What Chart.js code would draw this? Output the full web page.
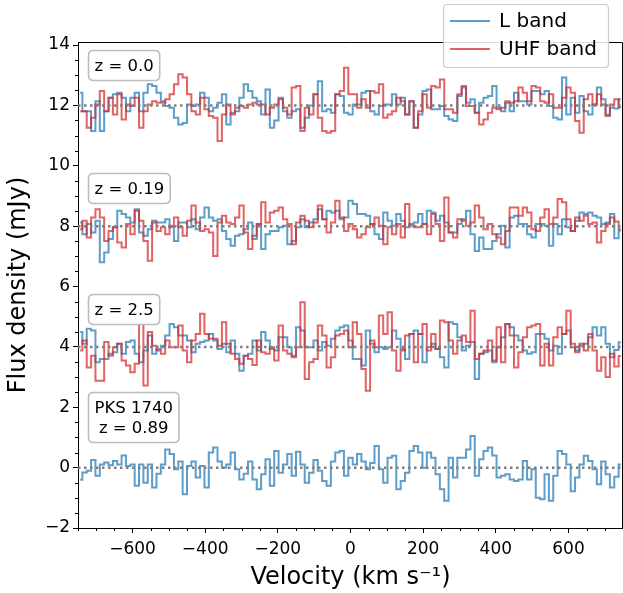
<!DOCTYPE html>
<html><head><meta charset="utf-8">
<script src="https://cdn.jsdelivr.net/npm/chart.js@4.4.1/dist/chart.umd.min.js"></script>
<style>html,body{margin:0;padding:0;background:#fff;}#wrap{width:623px;height:593px;}</style>
</head><body><div id="wrap"><canvas id="c" width="623" height="593"></canvas></div>
<script>
// Channel centre velocities (km/s)
const velocity = [
-744,-732,-720,-708,-696,-684,-672,-660,-648,-636,
-624,-612,-600,-588,-576,-564,-552,-540,-528,-516,
-504,-492,-480,-468,-456,-444,-432,-420,-408,-396,
-384,-372,-360,-348,-336,-324,-312,-300,-288,-276,
-264,-252,-240,-228,-216,-204,-192,-180,-168,-156,
-144,-132,-120,-108,-96,-84,-72,-60,-48,-36,
-24,-12,0,12,24,36,48,60,72,84,
96,108,120,132,144,156,168,180,192,204,
216,228,240,252,264,276,288,300,312,324,
336,348,360,372,384,396,408,420,432,444,
456,468,480,492,504,516,528,540,552,564,
576,588,600,612,624,636,648,660,672,684,
696,708,720,732,744];

// z = 0.0 (offset 12 mJy)
const lBandZ000 = [
12.42,11.81,11.81,11.15,12.14,11.15,11.81,12.25,12.37,12.42,12.25,11.81,12.25,12.42,11.81,12.42,12.7,12.64,12.42,12.14,11.98,11.92,11.59,11.37,11.42,12.03,11.98,12.03,12.42,12.25,11.81,11.92,12.09,12.37,11.37,11.76,11.81,12.25,12.7,12.48,12.25,12.14,
11.7,12.53,11.26,11.5,12.25,11.81,11.59,11.81,11.87,11.26,11.59,12.0,12.37,12.8,11.81,11.87,11.76,12.37,12.31,11.76,11.7,12.03,12.03,12.42,12.48,11.81,11.7,11.98,12.03,12.03,12.37,12.03,12.25,11.7,12.14,11.26,11.7,12.48,12.53,
11.87,11.87,11.98,11.65,11.53,11.48,12.31,12.59,12.09,12.2,11.76,12.09,12.25,12.31,12.64,11.92,11.81,12.09,11.81,12.42,12.14,12.14,12.03,12.48,12.48,12.37,12.48,11.98,11.59,11.53,12.92,11.7,12.25,11.76,12.31,11.81,11.7,12.03,12.59,12.2,11.7,11.92,
11.9,12.2];
const uhfBandZ000 = [
11.81,11.81,11.26,11.59,12.03,12.48,11.81,12.25,11.7,12.37,11.53,12.03,11.98,12.25,11.26,11.81,12.03,12.14,12.09,12.09,12.2,12.37,12.7,13.03,12.92,12.37,11.81,11.7,12.25,11.87,11.65,11.59,10.82,11.7,12.03,11.7,11.92,11.98,11.92,12.03,12.09,12.03,
12.03,11.7,11.92,12.03,12.2,11.92,11.7,12.59,12.64,11.15,11.92,11.7,12.37,11.59,11.15,11.09,11.15,12.37,12.48,13.25,12.37,12.37,11.92,12.2,11.92,12.48,12.42,12.7,11.59,11.7,11.81,12.25,12.14,11.7,12.14,11.26,11.81,12.37,11.92,
12.64,12.59,12.86,11.87,11.87,11.76,12.37,12.64,11.98,11.98,11.76,11.37,11.53,11.76,11.92,11.87,11.92,12.14,12.09,12.14,12.59,12.42,12.14,12.64,12.59,12.14,12.09,12.37,11.92,11.92,12.25,12.59,12.42,11.48,11.09,12.2,12.37,12.03,12.37,12.03,11.65,12.03,
12.2,11.95];

// z = 0.19 (offset 8 mJy)
const lBandZ019 = [
8.12,7.73,8.07,7.79,8.18,6.8,7.13,7.57,7.96,8.51,8.4,8.29,8.12,8.56,7.79,7.68,7.9,8.18,8.12,8.12,8.23,7.96,7.51,8.12,8.12,7.96,8.23,7.9,8.29,8.62,8.29,8.18,8.23,7.84,7.57,7.35,7.68,7.73,7.9,8.12,7.57,8.07,
7.24,7.73,7.84,7.84,7.96,8.01,7.4,7.51,7.96,8.23,7.96,8.12,8.23,8.56,8.23,8.51,8.45,8.51,8.23,8.29,8.84,8.73,8.4,8.4,8.34,8.07,7.73,7.57,8.45,8.18,8.01,8.4,8.18,7.96,8.07,8.12,8.4,8.07,8.51,
8.45,8.18,8.34,8.12,7.79,7.79,8.07,8.23,8.51,7.73,7.18,7.62,7.24,7.24,7.51,7.73,8.01,7.29,8.29,8.34,8.07,8.07,7.73,7.62,8.07,8.07,8.01,7.35,8.07,7.73,8.23,7.96,7.84,8.18,8.45,8.4,8.45,8.34,8.29,8.07,8.12,8.4,
7.6,7.85];
const uhfBandZ019 = [
7.9,8.18,7.62,8.29,8.56,8.29,7.51,7.84,7.96,7.46,7.29,8.07,7.73,8.51,8.18,7.51,6.85,8.12,7.84,7.96,7.73,8.01,8.29,7.96,7.68,8.18,8.68,8.12,7.84,7.9,7.79,7.01,8.12,8.34,8.12,8.07,8.29,8.68,7.79,7.24,7.68,8.07,
8.79,8.12,8.45,8.51,8.62,8.23,8.07,7.4,8.12,8.34,8.18,7.96,8.12,8.68,8.23,7.79,8.12,8.84,8.29,7.84,8.07,7.9,7.62,7.73,7.96,8.07,8.29,8.01,7.4,7.96,7.73,8.07,7.62,8.73,8.01,7.96,7.96,8.07,7.73,
8.4,8.07,7.51,8.95,7.79,7.62,8.23,8.18,8.01,8.12,8.68,8.29,7.9,8.07,7.73,7.62,7.4,7.84,8.62,8.62,8.34,8.62,8.45,7.9,7.84,8.29,8.56,8.07,8.29,8.9,8.79,8.23,7.84,8.29,8.18,8.34,8.07,8.12,7.46,7.84,8.07,8.29,
8.15,7.9];

// z = 2.5 (offset 4 mJy)
const lBandZ250 = [
4.49,4.1,4.6,4.54,3.49,3.6,3.6,3.77,3.82,4.1,3.77,4.16,4.21,3.77,3.49,3.88,4.38,3.77,3.93,4.04,4.38,4.76,4.65,4.38,4.38,4.21,3.82,4.1,4.16,4.21,4.43,4.21,3.93,4.1,3.82,4.21,3.77,3.21,3.71,3.77,4.21,3.88,
4.49,4.21,3.93,3.88,4.32,4.32,3.99,3.71,4.65,4.54,3.99,3.99,4.21,3.88,4.16,4.04,4.27,4.54,4.65,4.71,4.21,3.6,3.6,3.38,4.54,4.1,3.82,3.99,3.93,3.99,4.54,4.27,3.93,3.6,4.43,4.54,4.43,3.49,3.99,
4.1,3.93,3.66,3.32,4.82,4.76,4.32,3.88,4.04,4.16,2.94,3.77,3.82,3.88,3.49,3.99,4.32,4.76,4.65,4.38,4.21,3.88,3.77,3.82,4.43,4.43,4.27,3.88,4.04,3.77,4.43,4.54,3.99,3.88,4.04,4.1,4.32,4.65,4.38,4.65,4.1,3.66,
3.9,4.15];
const uhfBandZ250 = [
3.88,4.21,3.32,3.71,2.88,2.88,4.16,3.71,3.99,4.1,3.55,3.38,3.16,3.44,4.93,2.72,4.49,4.04,3.88,3.77,4.21,3.99,3.99,4.71,3.88,3.49,4.21,4.43,5.1,4.43,4.27,4.27,4.04,4.82,4.1,3.77,3.6,3.44,3.71,3.6,3.4,4.21,
3.82,3.77,3.99,3.55,4.71,3.88,3.77,3.66,3.99,5.48,2.94,3.49,3.6,4.71,4.38,3.32,3.66,4.38,4.43,4.54,3.99,4.82,4.43,3.27,2.55,4.21,3.99,5.04,4.43,5.15,3.88,3.21,3.88,4.38,4.43,3.49,4.43,4.76,3.88,
4.43,3.93,4.87,4.82,4.21,3.77,4.21,4.38,4.16,5.2,3.6,3.77,3.88,4.21,3.55,4.65,3.49,4.76,4.38,3.32,3.82,4.32,4.65,4.71,4.76,3.38,4.1,3.38,4.32,4.65,4.43,5.2,4.1,3.82,4.1,3.88,4.43,3.88,3.21,3.66,3.0,3.77,
3.35,3.7];

// PKS 1740, z = 0.89 (offset 0 mJy)
const lBandPKS = [
-0.4,-0.16,-0.1,0.25,-0.27,0.1,0.17,0.08,0.22,0.1,0.4,0.05,0.1,-0.6,0.1,-0.5,0.1,-0.66,-0.2,0.1,
0.6,0.45,-0.05,0.2,-0.88,0.05,0.2,-0.33,0.05,-0.66,0.5,0.67,0.2,0.0,0.1,0.5,-0.05,-0.39,-0.2,0.2,
-0.39,-0.72,-0.22,0.28,-0.6,0.55,-0.17,0.1,0.45,-0.27,0.53,0.1,-0.5,-0.17,0.25,-0.1,-0.44,-0.6,0.2,0.5,
0.55,-0.27,0.33,0.1,0.45,0.2,-0.05,0.15,0.72,-0.05,-0.5,0.33,0.39,-0.72,-0.44,-0.17,0.55,0.72,0.5,0.0,
0.5,0.33,-0.22,-0.72,-1.1,0.33,-0.33,0.33,0.33,0.6,1.05,-0.27,0.28,0.55,0.67,0.4,-0.33,-0.27,-0.22,-0.39,
-0.44,-0.39,0.22,-0.39,-0.05,-1.0,-1.05,-0.22,-1.1,-0.27,0.55,0.45,0.1,-0.78,-0.33,0.1,0.39,0.22,-0.05,-0.55,
0.2,-0.22,-0.66,-0.3,0.1];

const baselines = [12, 8, 4, 0];
const xTicks = [-600, -400, -200, 0, 200, 400, 600];
const yTicks = [-2, 0, 2, 4, 6, 8, 10, 12, 14];
const seriesNames = ['L band', 'UHF band'];
const boxLabels = [['z = 0.0'], ['z = 0.19'], ['z = 2.5'], ['PKS 1740', 'z = 0.89']];
const boxLabelY = [13.34, 9.27, 5.24, 1.67];

const BLUE = 'rgba(31,119,180,0.72)';
const RED = 'rgba(214,39,40,0.72)';
const FONT = "'DejaVu Sans', sans-serif";
const X_MIN = -750, X_MAX = 750, Y_MIN = -2, Y_MAX = 14.1;

function pts(vals) { return vals.map((y, i) => ({ x: velocity[i], y: y })); }
function fmt(v) { return v < 0 ? '\u2212' + Math.abs(v) : String(v); }

const datasets = [];
baselines.forEach(b => datasets.push({
  data: [{ x: X_MIN, y: b }, { x: X_MAX, y: b }], borderColor: '#7f7f7f', borderWidth: 2.5,
  borderDash: [2.5, 3.5], pointRadius: 0, order: 0
}));
[[lBandZ000, uhfBandZ000], [lBandZ019, uhfBandZ019], [lBandZ250, uhfBandZ250], [lBandPKS, null]].forEach(pair => {
  datasets.push({ data: pts(pair[0]), borderColor: BLUE, borderWidth: 2, stepped: 'middle', pointRadius: 0, order: 2 });
  if (pair[1]) datasets.push({ data: pts(pair[1]), borderColor: RED, borderWidth: 2, stepped: 'middle', pointRadius: 0, order: 1 });
});

function rrect(ctx, x, y, w, h, r) {
  ctx.beginPath();
  ctx.moveTo(x + r, y); ctx.lineTo(x + w - r, y); ctx.quadraticCurveTo(x + w, y, x + w, y + r);
  ctx.lineTo(x + w, y + h - r); ctx.quadraticCurveTo(x + w, y + h, x + w - r, y + h);
  ctx.lineTo(x + r, y + h); ctx.quadraticCurveTo(x, y + h, x, y + h - r);
  ctx.lineTo(x, y + r); ctx.quadraticCurveTo(x, y, x + r, y); ctx.closePath();
}

const decor = {
  id: 'decor',
  afterDatasetsDraw(chart) {
    const ctx = chart.ctx, a = chart.chartArea, xs = chart.scales.x, ys = chart.scales.y;
    ctx.save();
    // top and right spines
    ctx.strokeStyle = '#000'; ctx.lineWidth = 1;
    ctx.beginPath();
    ctx.moveTo(a.left, Math.round(a.top) + 0.5); ctx.lineTo(a.right - 0.5, Math.round(a.top) + 0.5); ctx.lineTo(a.right - 0.5, a.bottom);
    ctx.stroke();
    // minor ticks
    ctx.beginPath();
    for (let v = Y_MIN; v <= Y_MAX; v += 0.5) {
      if (Math.abs(v % 2) < 1e-6) continue;
      const p = Math.round(ys.getPixelForValue(v)) + 0.5;
      ctx.moveTo(a.left - 3, p); ctx.lineTo(a.left, p);
    }
    for (let v = X_MIN; v <= X_MAX; v += 50) {
      if (Math.abs(v % 200) < 1e-6) continue;
      const p = Math.round(xs.getPixelForValue(v)) + 0.5;
      ctx.moveTo(p, a.bottom); ctx.lineTo(p, a.bottom + 3);
    }
    ctx.stroke();
    // text boxes
    ctx.font = '16.5px ' + FONT;
    ctx.textBaseline = 'middle';
    boxLabels.forEach((lines, k) => {
      const cy = ys.getPixelForValue(boxLabelY[k]);
      const lh = 20;
      const w = Math.max(...lines.map(l => ctx.measureText(l).width)) + 12;
      const h = lh * (lines.length - 1) + 30;
      const x0 = a.left + 10.5, y0 = Math.round(cy - h / 2) + 0.5;
      rrect(ctx, x0, y0, w, h, 5);
      ctx.fillStyle = '#fff'; ctx.fill();
      ctx.strokeStyle = '#bdbdbd'; ctx.lineWidth = 1.6; ctx.stroke();
      ctx.fillStyle = '#000'; ctx.textAlign = 'center';
      lines.forEach((l, j) => ctx.fillText(l, x0 + w / 2, y0 + 15 + j * lh + 1));
    });
    // legend
    const lx = 443.5, ly = 4.5, lw = 165, lhh = 63;
    rrect(ctx, lx, ly, lw, lhh, 4);
    ctx.fillStyle = 'rgba(255,255,255,0.85)'; ctx.fill();
    ctx.strokeStyle = '#cccccc'; ctx.lineWidth = 1.2; ctx.stroke();
    ctx.font = '20px ' + FONT;
    [BLUE, RED].forEach((c, k) => {
      const yy = 21 + k * 28;
      ctx.strokeStyle = c; ctx.lineWidth = 2;
      ctx.beginPath(); ctx.moveTo(450, yy); ctx.lineTo(490, yy); ctx.stroke();
      ctx.fillStyle = '#000'; ctx.textAlign = 'left';
      ctx.fillText(seriesNames[k], 499, yy + 1);
    });
    ctx.restore();
  }
};

new Chart(document.getElementById('c'), {
  type: 'line',
  data: { datasets },
  options: {
    responsive: false, animation: false, devicePixelRatio: 1,
    layout: { padding: { top: 42, right: 0, left: 0, bottom: 0 } },
    plugins: { legend: { display: false }, tooltip: { enabled: false } },
    elements: { point: { radius: 0 }, line: { tension: 0 } },
    scales: {
      x: {
        type: 'linear', min: X_MIN, max: X_MAX,
        afterFit(s) { s.height = 65; s.paddingLeft = 0; s.paddingRight = 0; },
        afterBuildTicks(s) { s.ticks = xTicks.map(v => ({ value: v })); },
        grid: { drawOnChartArea: false, drawTicks: true, tickLength: 5, tickColor: '#000', tickWidth: 1 },
        border: { display: true, color: '#000', width: 1 },
        ticks: { font: { family: FONT, size: 17 }, color: '#000', padding: 6, maxRotation: 0, autoSkip: false, callback: v => fmt(v) },
        title: { display: true, text: 'Velocity (km s\u207B\u00B9)', font: { family: FONT, size: 24 }, color: '#000', padding: { top: 0, bottom: 1 } }
      },
      y: {
        type: 'linear', min: Y_MIN, max: Y_MAX,
        afterFit(s) { s.width = 78; s.paddingTop = 0; s.paddingBottom = 0; },
        afterBuildTicks(s) { s.ticks = yTicks.map(v => ({ value: v })); },
        grid: { drawOnChartArea: false, drawTicks: true, tickLength: 5, tickColor: '#000', tickWidth: 1 },
        border: { display: true, color: '#000', width: 1 },
        ticks: { font: { family: FONT, size: 17 }, color: '#000', padding: 3, autoSkip: false, callback: v => fmt(v) },
        title: { display: true, text: 'Flux density (mJy)', font: { family: FONT, size: 24 }, color: '#000', padding: { top: 4, bottom: 0 } }
      }
    }
  },
  plugins: [decor]
});
</script></body></html>
